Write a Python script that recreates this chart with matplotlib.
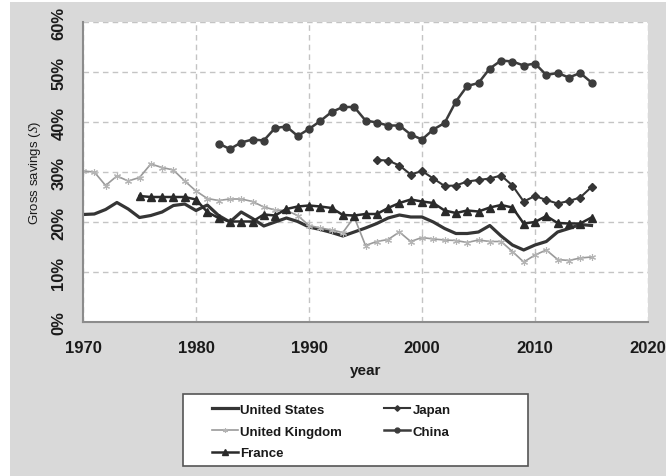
import matplotlib
matplotlib.use('Agg')
import matplotlib.pyplot as plt
from matplotlib.patches import Rectangle
from matplotlib.ticker import FuncFormatter, MultipleLocator
import numpy as np

plt.rcParams['font.family'] = ['Liberation Sans', 'DejaVu Sans']
plt.rcParams['mathtext.fontset'] = 'stix'

# gross savings, % of GDP
years_us = np.arange(1970, 2016)
united_states = [21.5, 21.6, 22.5, 23.9, 22.6, 20.9, 21.3, 22.0, 23.3, 23.6,
                 22.3, 23.4, 21.3, 20.0, 22.0, 20.7, 19.2, 20.0, 20.8, 20.1,
                 19.0, 18.5, 17.9, 17.2, 18.0, 18.8, 19.7, 20.8, 21.4, 21.0,
                 21.0, 20.0, 18.7, 17.7, 17.7, 18.0, 19.3, 17.2, 15.4, 14.4,
                 15.4, 16.1, 18.0, 18.7, 19.5, 19.3]
years_uk = np.arange(1970, 2016)
united_kingdom = [30.2, 30.0, 27.3, 29.2, 28.2, 28.9, 31.6, 30.9, 30.4, 28.2,
                  26.2, 24.7, 24.3, 24.6, 24.6, 24.1, 23.0, 22.4, 22.3, 21.3,
                  19.3, 18.8, 18.4, 17.9, 21.0, 15.3, 16.1, 16.5, 18.0, 16.1,
                  16.9, 16.6, 16.4, 16.3, 15.9, 16.4, 16.1, 16.1, 14.1, 12.0,
                  13.4, 14.4, 12.5, 12.3, 12.8, 13.0]
years_fr = np.arange(1975, 2016)
france = [25.2, 25.0, 25.0, 25.0, 25.0, 24.5, 22.0, 20.8, 20.1, 20.1,
          20.1, 21.5, 21.3, 22.6, 23.1, 23.3, 23.1, 22.8, 21.4, 21.3,
          21.6, 21.6, 22.8, 23.8, 24.5, 24.1, 23.8, 22.3, 21.8, 22.3,
          22.1, 22.9, 23.4, 22.9, 19.7, 20.0, 21.2, 19.8, 19.7, 19.7,
          20.9]
years_jp = np.arange(1996, 2016)
japan = [32.4, 32.3, 31.3, 29.5, 30.2, 28.7, 27.2, 27.3, 28.1, 28.4,
         28.7, 29.3, 27.3, 24.1, 25.2, 24.4, 23.7, 24.2, 24.9, 27.0]
years_cn = np.arange(1982, 2016)
china = [35.7, 34.6, 35.9, 36.5, 36.3, 38.8, 39.1, 37.2, 38.6, 40.2,
         42.0, 43.0, 43.0, 40.3, 39.9, 39.3, 39.3, 37.5, 36.5, 38.5,
         39.8, 44.1, 47.2, 47.8, 50.7, 52.3, 52.1, 51.3, 51.7, 49.4,
         49.8, 48.9, 49.8, 47.9]

W, H = 666, 477
fig = plt.figure(figsize=(W / 100, H / 100), dpi=100)
fig.patch.set_facecolor('#d9d9d9')
# thin white strip at the left / top like the screenshot
fig.add_artist(Rectangle((0, 0), 10 / W, 1, transform=fig.transFigure,
                         facecolor='white', edgecolor='none', zorder=-5))
fig.add_artist(Rectangle((0, 1 - 3 / H), 1, 3 / H, transform=fig.transFigure,
                         facecolor='white', edgecolor='none', zorder=-5))

ax = fig.add_axes([83 / W, 1 - 323 / H, (648 - 83) / W, 300 / H])
ax.set_facecolor('white')

dark = '#353535'
ax.plot(years_us, united_states, color=dark, lw=2.3, solid_joinstyle='round',
        label='United States')
ax.plot(years_uk, united_kingdom, color='#9a9a9a', lw=1.2, marker=(6, 2, 0),
        ms=5, mec='#b4b4b4', mew=0.8, label='United Kingdom')
ax.plot(years_fr, france, color='#2a2a2a', lw=1.8, marker='^', ms=5.5,
        label='France')
ax.plot(years_jp, japan, color=dark, lw=1.5, marker='D', ms=4,
        label='Japan')
ax.plot(years_cn, china, color='#3c3c3c', lw=1.8, marker='o', ms=5,
        label='China')

ax.set_xlim(1970, 2020)
ax.set_ylim(0, 60)
ax.xaxis.set_major_locator(MultipleLocator(10))
ax.yaxis.set_major_locator(MultipleLocator(10))
ax.yaxis.set_major_formatter(FuncFormatter(lambda v, p: '%d%%' % v))
ax.grid(True, color='#c4c4c4', linestyle=(0, (4, 3)), lw=1)
ax.set_axisbelow(True)
for s in ['top', 'right']:
    ax.spines[s].set_visible(False)
for s in ['left', 'bottom']:
    ax.spines[s].set_color('#8c8c8c')
    ax.spines[s].set_linewidth(1.5)
ax.tick_params(axis='both', length=0, labelsize=12, labelcolor='#1a1a1a')
ax.tick_params(axis='x', pad=13)
ax.tick_params(axis='y', pad=12)
for lab in ax.get_xticklabels():
    lab.set_fontweight('bold')
for lab in ax.get_yticklabels():
    lab.set_fontweight('bold')
    lab.set_rotation(90)
    lab.set_va('center')

ax.set_xlabel('year', fontsize=11, fontweight='bold', color='#1a1a1a', labelpad=6)
ax.set_ylabel(r'Gross savings ($S$)', fontsize=9.5, color='#1a1a1a', labelpad=6)

# legend box
fig.add_artist(Rectangle((183 / W, 1 - 467 / H), (528 - 183) / W, 72 / H,
                         transform=fig.transFigure, facecolor='white',
                         edgecolor='#555555', lw=1.2, zorder=2))
handles, labels = ax.get_legend_handles_labels()
leg = fig.legend(handles, labels, ncol=2, loc='upper left',
                 bbox_to_anchor=(205 / W, 1 - 398 / H), frameon=False,
                 borderpad=0, handlelength=2.0, handletextpad=0.15,
                 columnspacing=3.2, labelspacing=0.72, markerscale=0.7,
                 prop={'size': 9.5, 'weight': 'bold'})
leg.set_zorder(3)
for t in leg.get_texts():
    t.set_color('#1a1a1a')

fig.savefig('out.png', dpi=100, facecolor=fig.get_facecolor())
